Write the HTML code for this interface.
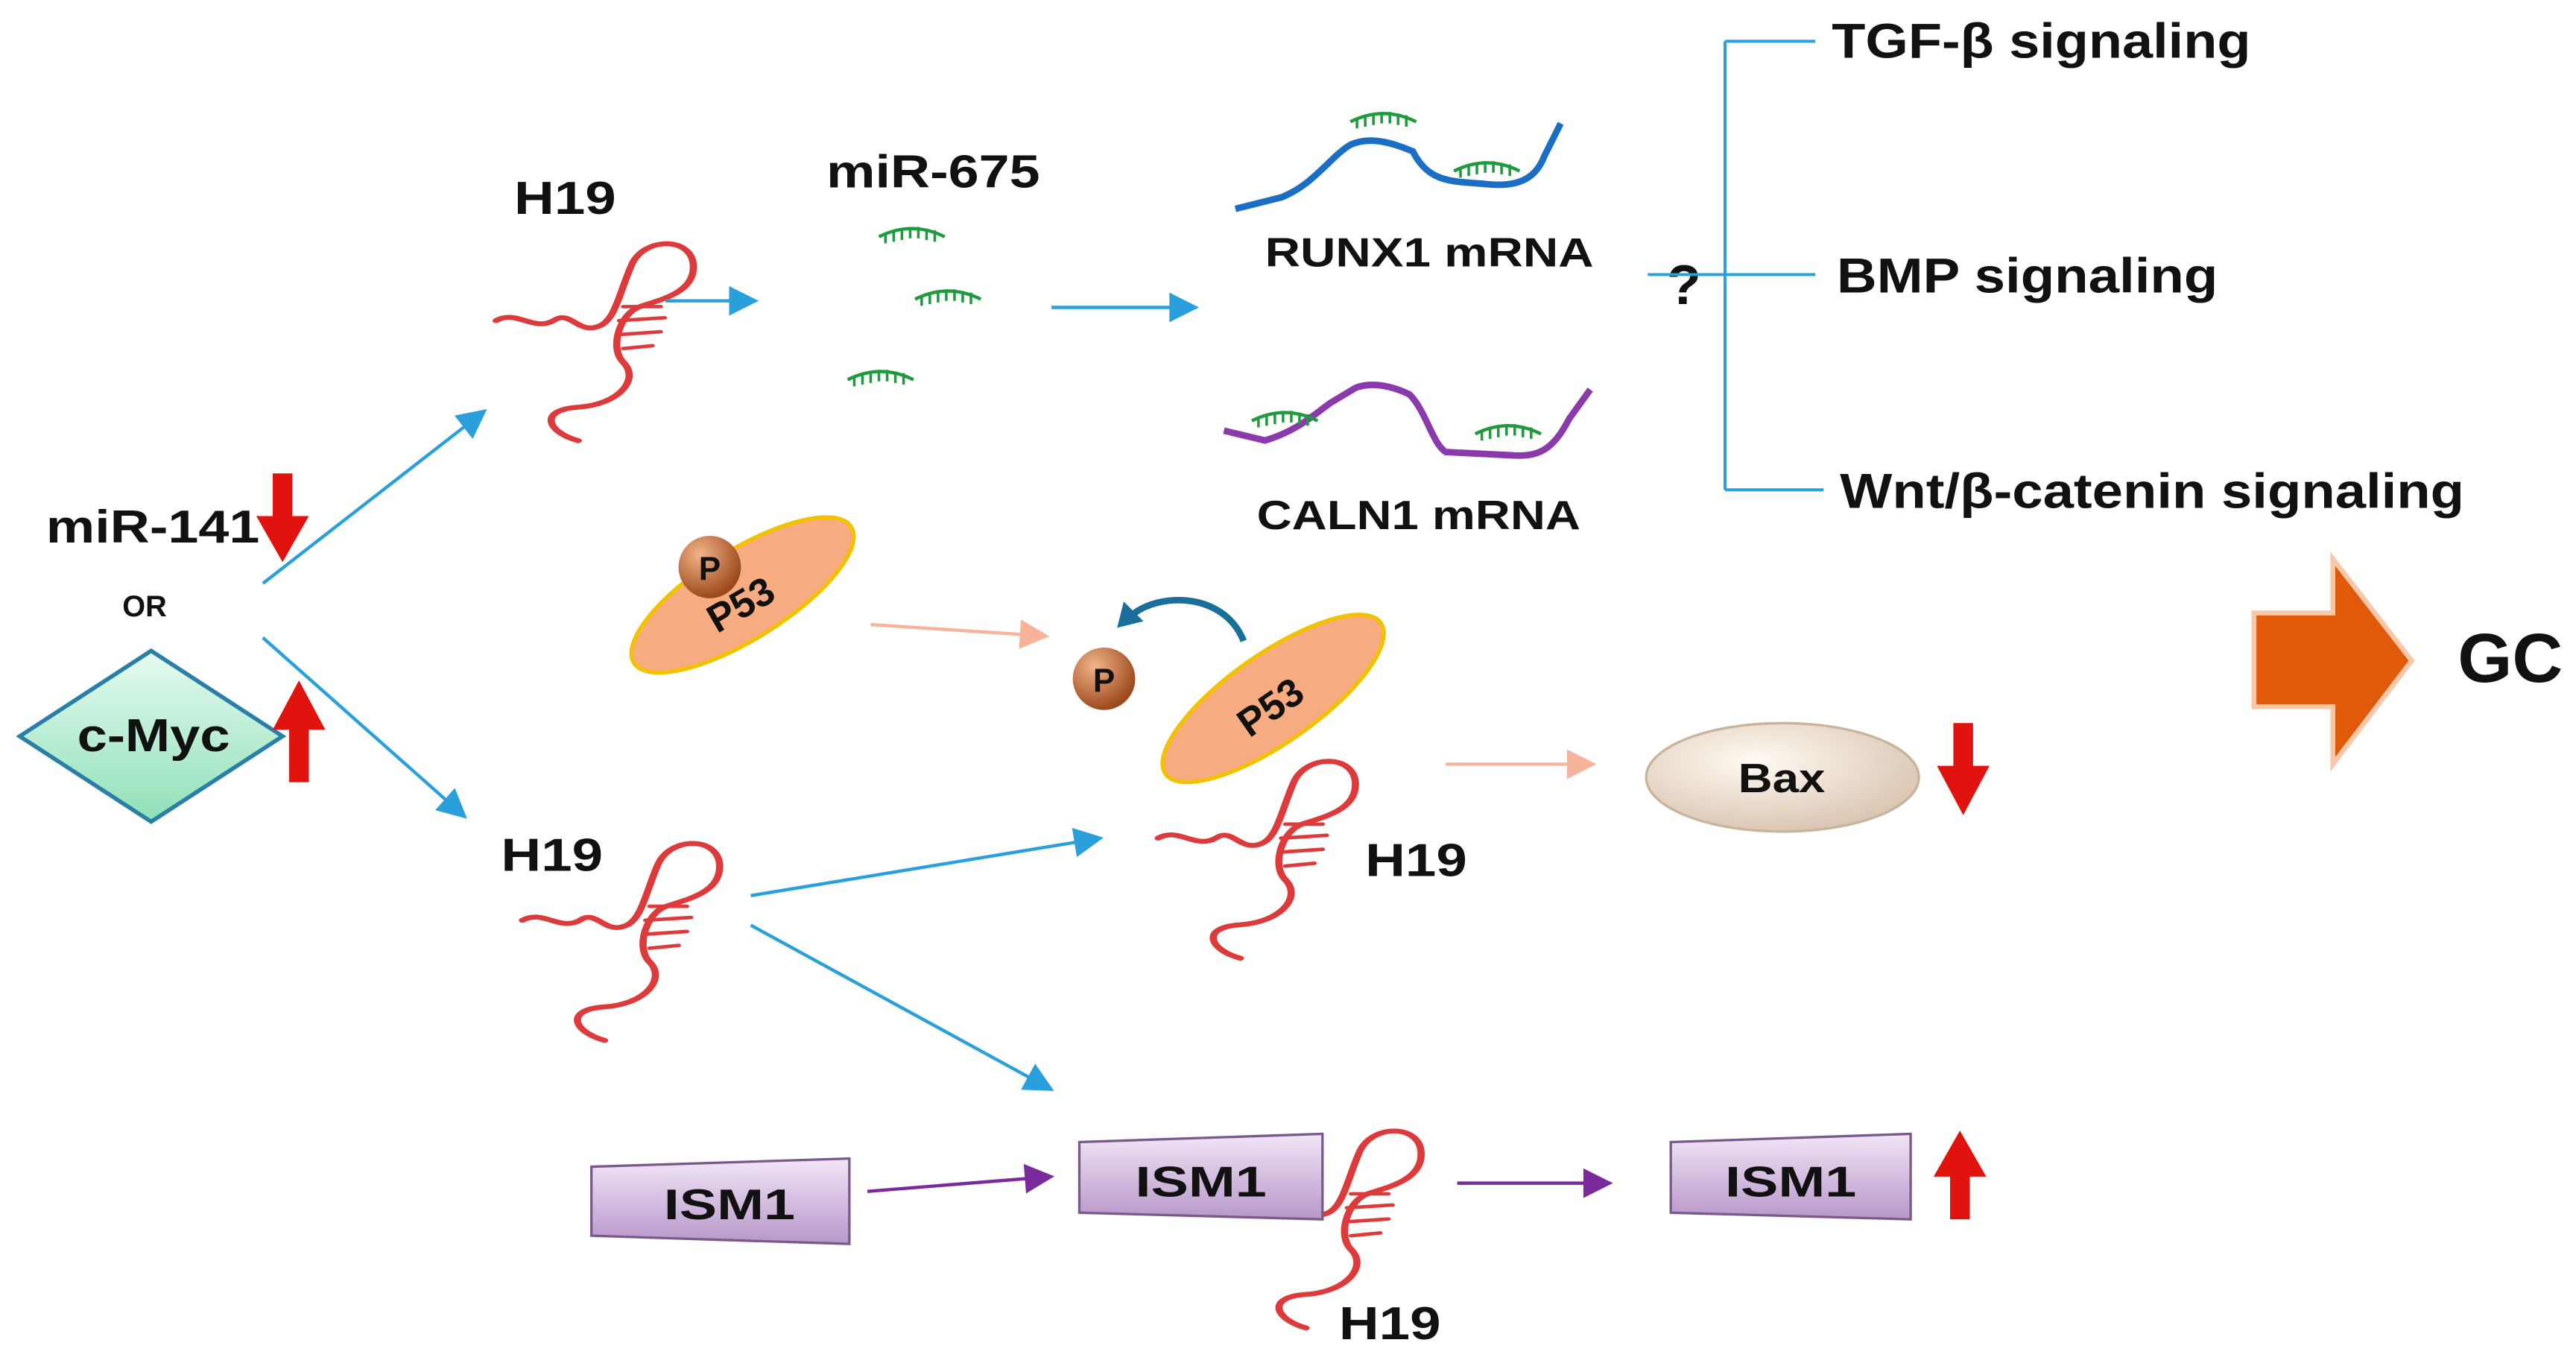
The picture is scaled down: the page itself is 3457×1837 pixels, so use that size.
<!DOCTYPE html>
<html><head><meta charset="utf-8"><style>html,body{margin:0;padding:0;background:#fff}svg{display:block}text{font-family:"Liberation Sans",Arial,sans-serif;font-weight:bold;fill:#111}</style></head><body>
<svg width="3457" height="1837" viewBox="0 0 1568 833" xmlns="http://www.w3.org/2000/svg">
<defs>
<marker id="ab" viewBox="0 0 10 10" refX="9" refY="5" markerUnits="userSpaceOnUse" markerWidth="22" markerHeight="18" orient="auto"><path d="M0,0L10,5L0,10z" fill="#29a0dc"/></marker>
<marker id="as" viewBox="0 0 10 10" refX="9" refY="5" markerUnits="userSpaceOnUse" markerWidth="22" markerHeight="18" orient="auto"><path d="M0,0L10,5L0,10z" fill="#f8b49a"/></marker>
<marker id="ap" viewBox="0 0 10 10" refX="9" refY="5" markerUnits="userSpaceOnUse" markerWidth="22" markerHeight="18" orient="auto"><path d="M0,0L10,5L0,10z" fill="#7a2a9a"/></marker>
<linearGradient id="ism" x1="0" y1="0" x2="0" y2="1"><stop offset="0" stop-color="#f1e6f7"/><stop offset="1" stop-color="#b896c9"/></linearGradient>
<linearGradient id="myc" x1="0" y1="0" x2="0" y2="1"><stop offset="0" stop-color="#e6fbf0"/><stop offset="1" stop-color="#8fe0b8"/></linearGradient>
<radialGradient id="bax" cx="0.4" cy="0.35" r="0.7"><stop offset="0" stop-color="#fffaf3"/><stop offset="1" stop-color="#d8c3ae"/></radialGradient>
<radialGradient id="pc" cx="0.35" cy="0.3" r="0.7"><stop offset="0" stop-color="#f3b48a"/><stop offset="1" stop-color="#9c4a1c"/></radialGradient>
<g id="rna0" fill="none" stroke="#dd3b3b" stroke-width="3.5" stroke-linecap="round">
<path d="M0,0 C10,-8 18,8 28,0 C36,-8 40,10 50,4 C58,0 60,-20 66,-40 C72,-60 95,-60 96,-40 C97,-20 80,-15 70,-10 C60,-5 55,20 62,30 C70,42 60,60 40,62 C20,64 25,80 40,86"/>
<path d="M62,-10 L80,-10 M60,0 L82,-2 M60,10 L80,8 M62,20 L76,18" stroke-width="2.5"/>
</g>
<g id="rna"><use href="#rna0" transform="scale(1.25,0.85)"/></g>
<g id="mir" stroke="#1f9a3e" fill="none" stroke-width="2"><path d="M0,6 Q20,-4 40,6"/><path d="M4,4v6M9,2v7M14,1v7M19,0v7M24,0v7M29,1v7M34,2v7" stroke-width="1.6"/></g>
</defs>

<text x="313" y="130" font-size="28" textLength="62" lengthAdjust="spacingAndGlyphs">H19</text>
<text x="503" y="114" font-size="28" textLength="130" lengthAdjust="spacingAndGlyphs">miR-675</text>
<use href="#rna" x="302" y="195"/>
<use href="#mir" x="535" y="138"/>
<use href="#mir" x="557" y="176"/>
<use href="#mir" x="516" y="225"/>

<g stroke="#29a0dc" stroke-width="2" fill="none" marker-end="url(#ab)">
<line x1="405" y1="183" x2="460" y2="183"/>
<line x1="640" y1="187" x2="728" y2="187"/>
<line x1="160" y1="355" x2="295" y2="250"/>
<line x1="160" y1="388" x2="283" y2="497"/>
<line x1="457" y1="545" x2="670" y2="510"/>
<line x1="457" y1="563" x2="640" y2="663"/>
</g>

<path d="M752,127 L780,120 C800,112 810,95 822,88 C835,82 850,88 860,92 C870,112 885,110 905,112 C925,114 935,108 940,95 L950,75" fill="none" stroke="#1a6fc4" stroke-width="4"/>
<use href="#mir" x="822" y="68"/>
<use href="#mir" x="885" y="98"/>
<text x="770" y="162" font-size="25" textLength="200" lengthAdjust="spacingAndGlyphs">RUNX1 mRNA</text>
<path d="M745,262 L770,268 C790,262 800,252 810,245 L825,236 C835,232 848,235 858,240 C868,250 872,270 880,275 L920,277 C935,278 945,275 955,255 L968,237" fill="none" stroke="#8b3aab" stroke-width="4"/>
<use href="#mir" x="762" y="250"/>
<use href="#mir" x="898" y="258"/>
<text x="765" y="322" font-size="25" textLength="197" lengthAdjust="spacingAndGlyphs">CALN1 mRNA</text>

<text x="1025" y="185" font-size="34" text-anchor="middle">?</text>
<g stroke="#29a0dc" stroke-width="1.8" fill="none">
<line x1="1050" y1="25" x2="1050" y2="298"/>
<line x1="1050" y1="25" x2="1105" y2="25"/>
<line x1="1003" y1="167" x2="1105" y2="167"/>
<line x1="1050" y1="298" x2="1110" y2="298"/>
</g>
<text x="1115" y="35" font-size="30" textLength="255" lengthAdjust="spacingAndGlyphs">TGF-β signaling</text>
<text x="1118" y="178" font-size="30" textLength="232" lengthAdjust="spacingAndGlyphs">BMP signaling</text>
<text x="1120" y="309" font-size="30" textLength="380" lengthAdjust="spacingAndGlyphs">Wnt/β-catenin signaling</text>

<text x="28" y="330" font-size="28" textLength="130" lengthAdjust="spacingAndGlyphs">miR-141</text>
<path d="M166,288h12v26h10l-16,28l-16,-28h10z" fill="#e0130f"/>
<text x="88" y="375" font-size="18" text-anchor="middle">OR</text>
<polygon points="92,396 172,448 92,500 12,448" fill="url(#myc)" stroke="#2a7fa8" stroke-width="2.5"/>
<text x="47" y="457" font-size="28" textLength="93" lengthAdjust="spacingAndGlyphs">c-Myc</text>
<path d="M176,476h12v-32h10l-16,-30l-16,30h10z" fill="#e0130f"/>

<ellipse cx="452" cy="362" rx="78" ry="27" transform="rotate(-32 452 362)" fill="#f6ac80" stroke="#f2c100" stroke-width="2.5"/>
<text x="455" y="375" font-size="24" transform="rotate(-30 455 375)" text-anchor="middle">P53</text>
<circle cx="432" cy="345" r="19" fill="url(#pc)"/>
<text x="432" y="353" font-size="20" text-anchor="middle">P</text>
<line x1="530" y1="380" x2="637" y2="387" stroke="#f8b49a" stroke-width="2" marker-end="url(#as)"/>
<circle cx="672" cy="413" r="19" fill="url(#pc)"/>
<text x="672" y="421" font-size="20" text-anchor="middle">P</text>
<path d="M757,390 C745,360 705,360 688,375" fill="none" stroke="#1a6f9a" stroke-width="4"/>
<path d="M680,382 l4,-16 l12,12z" fill="#1a6f9a"/>
<use href="#rna" x="705" y="510"/>
<ellipse cx="775" cy="425" rx="80" ry="27" transform="rotate(-35 775 425)" fill="#f6ac80" stroke="#f2c100" stroke-width="2.5"/>
<text x="778" y="437" font-size="24" transform="rotate(-35 778 437)" text-anchor="middle">P53</text>
<text x="831" y="533" font-size="28" textLength="62" lengthAdjust="spacingAndGlyphs">H19</text>
<line x1="880" y1="465" x2="970" y2="465" stroke="#f8b49a" stroke-width="2" marker-end="url(#as)"/>
<ellipse cx="1085" cy="473" rx="83" ry="33" fill="url(#bax)" stroke="#c9b39c" stroke-width="1.5"/>
<text x="1058" y="482" font-size="25" textLength="53" lengthAdjust="spacingAndGlyphs">Bax</text>
<path d="M1189,440h12v26h10l-16,30l-16,-30h10z" fill="#e0130f"/>

<text x="305" y="530" font-size="28" textLength="62" lengthAdjust="spacingAndGlyphs">H19</text>
<use href="#rna" x="318" y="560"/>

<polygon points="360,710 517,705 517,757 360,752" fill="url(#ism)" stroke="#7a5a8a" stroke-width="1.5"/>
<text x="404" y="742" font-size="26" textLength="80" lengthAdjust="spacingAndGlyphs">ISM1</text>
<line x1="528" y1="725" x2="640" y2="716" stroke="#7a2a9a" stroke-width="2" marker-end="url(#ap)"/>
<use href="#rna" x="745" y="735"/>
<polygon points="657,695 805,690 805,742 657,738" fill="url(#ism)" stroke="#7a5a8a" stroke-width="1.5"/>
<text x="691" y="728" font-size="26" textLength="80" lengthAdjust="spacingAndGlyphs">ISM1</text>
<text x="815" y="815" font-size="28" textLength="62" lengthAdjust="spacingAndGlyphs">H19</text>
<line x1="887" y1="720" x2="980" y2="720" stroke="#7a2a9a" stroke-width="2" marker-end="url(#ap)"/>
<polygon points="1017,695 1163,690 1163,742 1017,738" fill="url(#ism)" stroke="#7a5a8a" stroke-width="1.5"/>
<text x="1050" y="728" font-size="26" textLength="80" lengthAdjust="spacingAndGlyphs">ISM1</text>
<path d="M1187,742h12v-26h10l-16,-28l-16,28h10z" fill="#e0130f"/>

<polygon points="1372,373 1420,373 1420,340 1468,402 1420,465 1420,430 1372,430" fill="#e05a0a" stroke="#f8c8a8" stroke-width="3"/>
<text x="1496" y="415" font-size="42" textLength="64" lengthAdjust="spacingAndGlyphs">GC</text>
</svg>
</body></html>
